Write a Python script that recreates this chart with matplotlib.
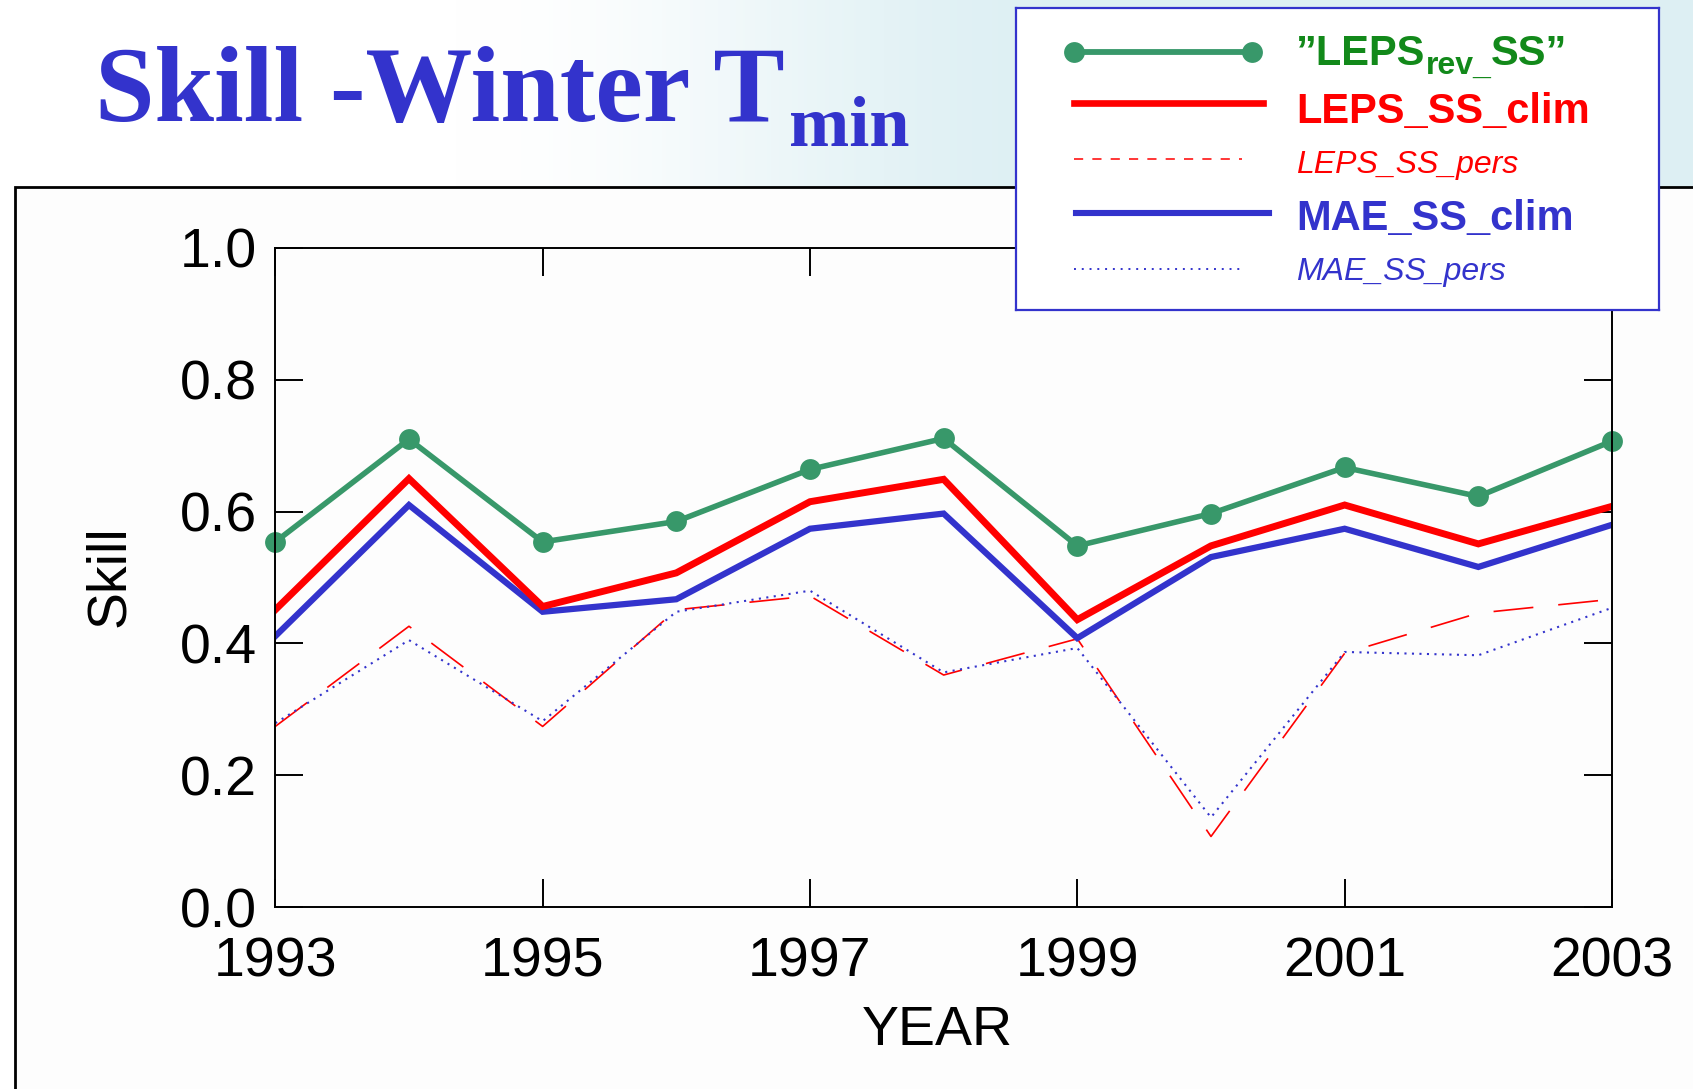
import matplotlib
matplotlib.use("Agg")
import matplotlib.pyplot as plt
import numpy as np
from matplotlib.patches import Rectangle

# ---- data -------------------------------------------------------------
years = [1993, 1994, 1995, 1996, 1997, 1998, 1999, 2000, 2001, 2002, 2003]
leps_rev_ss = [0.554, 0.710, 0.554, 0.585, 0.664, 0.711, 0.548, 0.597, 0.667, 0.623, 0.707]
leps_ss_clim = [0.451, 0.650, 0.456, 0.507, 0.615, 0.649, 0.436, 0.548, 0.610, 0.551, 0.608]
mae_ss_clim = [0.411, 0.610, 0.448, 0.467, 0.574, 0.597, 0.408, 0.531, 0.574, 0.516, 0.580]
leps_ss_pers = [0.274, 0.426, 0.274, 0.451, 0.472, 0.352, 0.407, 0.107, 0.385, 0.446, 0.467]
mae_ss_pers = [0.279, 0.405, 0.282, 0.448, 0.480, 0.356, 0.393, 0.136, 0.387, 0.382, 0.454]

year_ticks = [1993, 1995, 1997, 1999, 2001, 2003]
skill_ticks = [0.0, 0.2, 0.4, 0.6, 0.8, 1.0]

GREEN = "#38986A"
GREEN_TXT = "#12891A"
RED = "#FF0000"
BLUE = "#3333CC"
SANS = "Liberation Sans"
SERIF = "Liberation Serif"

W, H = 1693, 1089
fig = plt.figure(figsize=(W / 100, H / 100), dpi=100)
fig.patch.set_facecolor("white")


def fx(px):
    return px / W


def fy(py):
    return 1 - py / H


# ---- slide background: white on the left, pale cyan on the right --------
bg = fig.add_axes([0, 0, 1, 1], zorder=-10)
bg.axis("off")
xs = np.linspace(0, 1, 600)
ramp = np.clip((xs - 0.27) / 0.36, 0, 1)
ramp = ramp * ramp * (3 - 2 * ramp)
white = np.array([1.0, 1.0, 1.0])
cyan = np.array([0.87, 0.94, 0.955])
row = white[None, :] * (1 - ramp[:, None]) + cyan[None, :] * ramp[:, None]
img = np.repeat(row[None, :, :], 2, axis=0)
bg.imshow(img, aspect="auto", extent=[0, 1, 0, 1], interpolation="bilinear")
bg.set_xlim(0, 1)
bg.set_ylim(0, 1)

# ---- title -------------------------------------------------------------
title = bg.text(fx(95), fy(121), "Skill -Winter T", transform=fig.transFigure,
                family=SERIF, weight="bold", fontsize=77, color=BLUE,
                va="baseline", ha="left")
bg.annotate("min", xy=(1, 0), xycoords=title, xytext=(3, -1.5),
            textcoords="offset points", family=SERIF, weight="bold",
            fontsize=52, color=BLUE, va="baseline", ha="left",
            annotation_clip=False)

# ---- white chart panel --------------------------------------------------
panel = Rectangle((fx(15), -0.05), 1.2, fy(187) + 0.05, transform=fig.transFigure,
                  facecolor="#FDFDFD", edgecolor="black", linewidth=2.0, zorder=-5)
fig.add_artist(panel)

# ---- main axes ----------------------------------------------------------
ax_l, ax_r, ax_t, ax_b = 275.3, 1612.0, 248.0, 907.0
ax = fig.add_axes([fx(ax_l), fy(ax_b), (ax_r - ax_l) / W, (ax_b - ax_t) / H], zorder=1)
ax.patch.set_alpha(0)

ax.plot(years, leps_ss_pers, color=RED, linewidth=1.2, linestyle=(0, (24, 15)))
ax.plot(years, mae_ss_pers, color=BLUE, linewidth=1.5, linestyle=(0, (1, 2.6)))
ax.plot(years, mae_ss_clim, color=BLUE, linewidth=4.5, solid_joinstyle="miter")
ax.plot(years, leps_ss_clim, color=RED, linewidth=5.0, solid_joinstyle="miter")
ax.plot(years, leps_rev_ss, color=GREEN, linewidth=4.0, marker="o", markersize=15,
        markeredgewidth=0, clip_on=False)

ax.set_xlim(1993, 2003)
ax.set_ylim(0, 1)
ax.set_xticks(year_ticks)
ax.set_xticklabels([str(y) for y in year_ticks])
ax.set_yticks(skill_ticks)
ax.set_yticklabels([f"{v:.1f}" for v in skill_ticks])
ax.tick_params(direction="in", length=20, width=1.4, top=True, right=True,
               labelsize=40, colors="black")
ax.tick_params(axis="x", pad=21)
ax.tick_params(axis="y", pad=13)
for lab in ax.get_xticklabels() + ax.get_yticklabels():
    lab.set_family(SANS)
for sp in ax.spines.values():
    sp.set_linewidth(1.4)

ax.set_xlabel("YEAR", family=SANS, fontsize=40, va="center")
ax.xaxis.set_label_coords((937 - ax_l) / (ax_r - ax_l), (ax_b - 1031) / (ax_b - ax_t))
ax.set_ylabel("Skill", family=SANS, fontsize=40, va="center")
ax.yaxis.set_label_coords((110 - ax_l) / (ax_r - ax_l), (ax_b - 576) / (ax_b - ax_t))

# ---- legend box ---------------------------------------------------------
lg_l, lg_r, lg_t, lg_b = 1016, 1659, 7.5, 310
lax = fig.add_axes([fx(lg_l), fy(lg_b), (lg_r - lg_l) / W, (lg_b - lg_t) / H], zorder=5)
lax.set_xlim(lg_l, lg_r)
lax.set_ylim(lg_b, lg_t)
lax.set_xticks([])
lax.set_yticks([])
lax.patch.set_facecolor("white")
for sp in lax.spines.values():
    sp.set_color(BLUE)
    sp.set_linewidth(1.6)

lax.plot([1074, 1252], [51.8, 51.8], color=GREEN, linewidth=4.2, marker="o",
         markersize=15, markeredgewidth=0)
lax.plot([1074, 1263], [102.6, 102.6], color=RED, linewidth=4.8)
lax.plot([1074, 1242], [158.7, 158.7], color=RED, linewidth=1.1, linestyle=(0, (6, 6)))
lax.plot([1076, 1269], [212.7, 212.7], color=BLUE, linewidth=4.4)
lax.plot([1074, 1242], [268.8, 268.8], color=BLUE, linewidth=1.4, linestyle=(0, (1, 3)))

tx = 1296
t1 = lax.text(tx, 65, "\u201dLEPS", family=SANS, weight="bold", fontsize=30,
              color=GREEN_TXT, va="baseline", ha="left")
t2 = lax.annotate("rev_", xy=(1, 0), xycoords=t1, family=SANS, weight="bold",
                  fontsize=23, color=GREEN_TXT, va="baseline", ha="left")
lax.annotate("SS\u201d", xy=(1, 0), xycoords=(t2, t1), family=SANS, weight="bold",
             fontsize=30, color=GREEN_TXT, va="bottom", ha="left")
lax.text(tx, 123, "LEPS_SS_clim", family=SANS, weight="bold", fontsize=30,
         color=RED, va="baseline", ha="left")
lax.text(tx, 173, "LEPS_SS_pers", family=SANS, style="italic", fontsize=23,
         color=RED, va="baseline", ha="left")
lax.text(tx, 230, "MAE_SS_clim", family=SANS, weight="bold", fontsize=30,
         color=BLUE, va="baseline", ha="left")
lax.text(tx, 280, "MAE_SS_pers", family=SANS, style="italic", fontsize=23,
         color=BLUE, va="baseline", ha="left")

fig.savefig("out.png", dpi=100)
